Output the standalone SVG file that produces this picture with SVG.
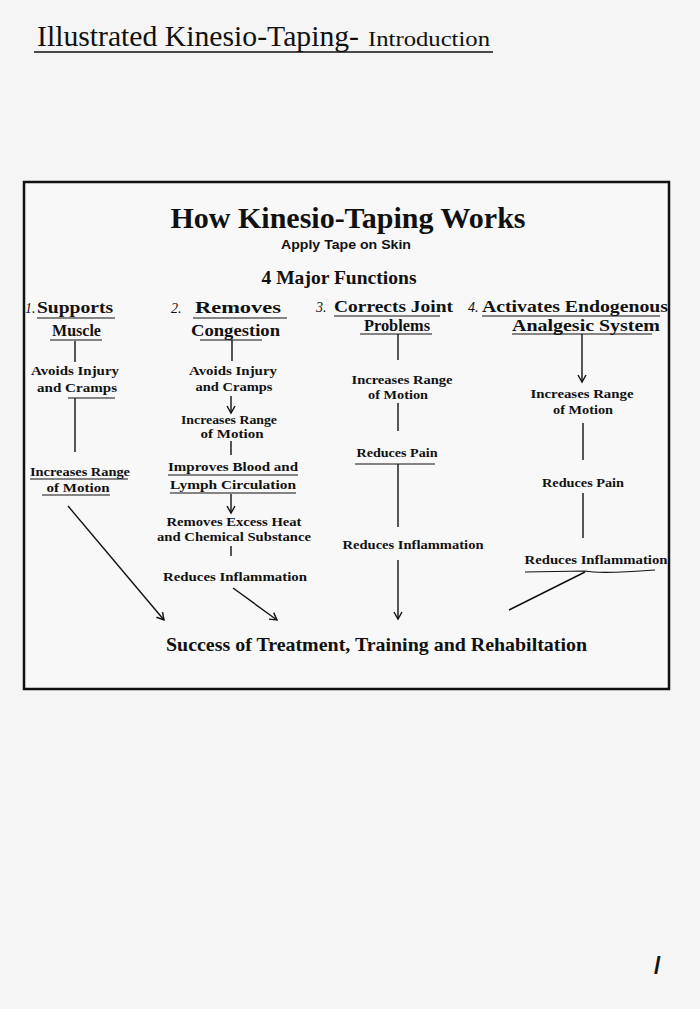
<svg xmlns="http://www.w3.org/2000/svg" width="700" height="1009" viewBox="0 0 700 1009">
<defs>
<marker id="arr" viewBox="-8 -5 10 10" markerWidth="10" markerHeight="10" refX="0" refY="0" orient="auto" markerUnits="userSpaceOnUse">
<path d="M-7,-4 L0,0 L-7,4" fill="none" stroke="#111" stroke-width="1.4"/>
</marker>
<style>
.hdr{font-family:"Liberation Serif",serif;fill:#111}
.ttl{font-family:"Liberation Serif",serif;font-weight:bold;fill:#111}
.sub{font-family:"Liberation Sans",sans-serif;font-weight:bold;fill:#111}
.hd{font-family:"Liberation Serif",serif;font-weight:bold;font-size:17px;fill:#111}
.num{font-family:"Liberation Serif",serif;font-style:italic;font-size:14px;fill:#111}
.it{font-family:"Liberation Serif",serif;font-weight:bold;font-size:13.5px;fill:#111}
.ln{stroke:#111;stroke-width:1.4;fill:none}
.ul{stroke:#111;stroke-width:1.2;fill:none}
</style>
</defs>
<rect x="0" y="0" width="700" height="1009" fill="#f5f5f5"/>

<g id="header">
<text class="hdr" x="37" y="46" font-size="30" textLength="322" lengthAdjust="spacingAndGlyphs">Illustrated Kinesio-Taping-</text>
<text class="hdr" x="368" y="46" font-size="21" textLength="122" lengthAdjust="spacingAndGlyphs">Introduction</text>
<line x1="34" y1="52" x2="493" y2="52" stroke="#111" stroke-width="1.5"/>
</g>

<rect id="frame" x="24" y="182" width="645" height="507" fill="#f8f8f8" stroke="#111" stroke-width="2.5"/>

<g id="title">
<text class="ttl" x="348" y="228" font-size="30" text-anchor="middle" textLength="355" lengthAdjust="spacingAndGlyphs">How Kinesio-Taping Works</text>
<text class="sub" x="346" y="249" font-size="13" text-anchor="middle" textLength="130" lengthAdjust="spacingAndGlyphs">Apply Tape on Skin</text>
<text class="ttl" x="339" y="284" font-size="19" text-anchor="middle" textLength="155" lengthAdjust="spacingAndGlyphs">4 Major Functions</text>
</g>

<g id="col1-head">
<text class="num" x="25" y="313">1.</text>
<text class="hd" x="37" y="313" textLength="76" lengthAdjust="spacingAndGlyphs">Supports</text>
<line class="ul" x1="37" y1="318" x2="115" y2="318"/>
<text class="hd" x="52" y="336" textLength="49" lengthAdjust="spacingAndGlyphs">Muscle</text>
<line class="ul" x1="50" y1="340" x2="102" y2="340"/>
</g>
<g id="col1-a">
<text class="it" x="75" y="375" text-anchor="middle" textLength="88" lengthAdjust="spacingAndGlyphs">Avoids Injury</text>
<text class="it" x="77" y="392" text-anchor="middle" textLength="80" lengthAdjust="spacingAndGlyphs">and Cramps</text>
</g>
<g id="col1-b">
<text class="it" x="80" y="476" text-anchor="middle" textLength="100" lengthAdjust="spacingAndGlyphs">Increases Range</text>
<line class="ul" x1="30" y1="479" x2="128" y2="479"/>
<text class="it" x="78" y="492" text-anchor="middle" textLength="63" lengthAdjust="spacingAndGlyphs">of Motion</text>
<line class="ul" x1="42" y1="495" x2="110" y2="495"/>
</g>

<g id="col2-head">
<text class="num" x="171" y="313">2.</text>
<text class="hd" x="195" y="313" textLength="86" lengthAdjust="spacingAndGlyphs">Removes</text>
<line class="ul" x1="193" y1="318" x2="287" y2="318"/>
<text class="hd" x="191" y="336" textLength="89" lengthAdjust="spacingAndGlyphs">Congestion</text>
<line class="ul" x1="200" y1="340" x2="262" y2="340"/>
</g>
<g id="col2-a">
<text class="it" x="233" y="375" text-anchor="middle" textLength="88" lengthAdjust="spacingAndGlyphs">Avoids Injury</text>
<text class="it" x="234" y="391" text-anchor="middle" textLength="77" lengthAdjust="spacingAndGlyphs">and Cramps</text>
</g>
<g id="col2-b">
<text class="it" x="229" y="424" text-anchor="middle" textLength="96" lengthAdjust="spacingAndGlyphs">Increases Range</text>
<text class="it" x="232" y="438" text-anchor="middle" textLength="63" lengthAdjust="spacingAndGlyphs">of Motion</text>
</g>
<g id="col2-c">
<text class="it" x="233" y="471" text-anchor="middle" textLength="130" lengthAdjust="spacingAndGlyphs">Improves Blood and</text>
<line class="ul" x1="168" y1="475" x2="298" y2="475"/>
<text class="it" x="233" y="489" text-anchor="middle" textLength="126" lengthAdjust="spacingAndGlyphs">Lymph Circulation</text>
<line class="ul" x1="170" y1="493" x2="296" y2="493"/>
</g>
<g id="col2-d">
<text class="it" x="234" y="526" text-anchor="middle" textLength="135" lengthAdjust="spacingAndGlyphs">Removes Excess Heat</text>
<text class="it" x="234" y="541" text-anchor="middle" textLength="154" lengthAdjust="spacingAndGlyphs">and Chemical Substance</text>
</g>
<g id="col2-e">
<text class="it" x="235" y="581" text-anchor="middle" textLength="144" lengthAdjust="spacingAndGlyphs">Reduces Inflammation</text>
</g>

<g id="col3-head">
<text class="num" x="316" y="312">3.</text>
<text class="hd" x="334" y="312" textLength="119" lengthAdjust="spacingAndGlyphs">Corrects Joint</text>
<line class="ul" x1="334" y1="316" x2="440" y2="316"/>
<text class="hd" x="364" y="331" textLength="66" lengthAdjust="spacingAndGlyphs">Problems</text>
<line class="ul" x1="360" y1="334" x2="432" y2="334"/>
</g>
<g id="col3-a">
<text class="it" x="402" y="384" text-anchor="middle" textLength="101" lengthAdjust="spacingAndGlyphs">Increases Range</text>
<text class="it" x="398" y="399" text-anchor="middle" textLength="60" lengthAdjust="spacingAndGlyphs">of Motion</text>
</g>
<g id="col3-b">
<text class="it" x="397" y="457" text-anchor="middle" textLength="81" lengthAdjust="spacingAndGlyphs">Reduces Pain</text>
<line class="ul" x1="355" y1="464" x2="435" y2="464"/>
</g>
<g id="col3-c">
<text class="it" x="413" y="549" text-anchor="middle" textLength="141" lengthAdjust="spacingAndGlyphs">Reduces Inflammation</text>
</g>

<g id="col4-head">
<text class="num" x="468" y="312">4.</text>
<text class="hd" x="482" y="312" textLength="186" lengthAdjust="spacingAndGlyphs">Activates Endogenous</text>
<line class="ul" x1="482" y1="316" x2="660" y2="316"/>
<text class="hd" x="512" y="331" textLength="148" lengthAdjust="spacingAndGlyphs">Analgesic System</text>
<line class="ul" x1="512" y1="334" x2="652" y2="334"/>
</g>
<g id="col4-a">
<text class="it" x="582" y="398" text-anchor="middle" textLength="103" lengthAdjust="spacingAndGlyphs">Increases Range</text>
<text class="it" x="583" y="414" text-anchor="middle" textLength="60" lengthAdjust="spacingAndGlyphs">of Motion</text>
</g>
<g id="col4-b">
<text class="it" x="583" y="487" text-anchor="middle" textLength="82" lengthAdjust="spacingAndGlyphs">Reduces Pain</text>
</g>
<g id="col4-c">
<text class="it" x="596" y="564" text-anchor="middle" textLength="143" lengthAdjust="spacingAndGlyphs">Reduces Inflammation</text>
<path class="ul" d="M525,572 L585,571 Q600,574 655,570"/>
</g>

<g id="result">
<text class="ttl" x="166" y="651" font-size="19" textLength="421" lengthAdjust="spacingAndGlyphs">Success of Treatment, Training and Rehabiltation</text>
</g>

<g id="connectors">
<line class="ln" x1="75" y1="341" x2="75" y2="362"/>
<line class="ul" x1="68" y1="398" x2="115" y2="398"/>
<line class="ln" x1="75" y1="398" x2="75" y2="452"/>
<line class="ln" x1="68" y1="506" x2="164" y2="620" marker-end="url(#arr)"/>

<line class="ln" x1="232" y1="340" x2="232" y2="361"/>
<line class="ln" x1="231" y1="396" x2="231" y2="413" marker-end="url(#arr)"/>
<line class="ln" x1="231" y1="441" x2="231" y2="455"/>
<line class="ln" x1="231" y1="494" x2="231" y2="513" marker-end="url(#arr)"/>
<line class="ln" x1="231" y1="546" x2="231" y2="556"/>
<line class="ln" x1="233" y1="588" x2="277" y2="620" marker-end="url(#arr)"/>

<line class="ln" x1="398" y1="334" x2="398" y2="360"/>
<line class="ln" x1="398" y1="403" x2="398" y2="431"/>
<line class="ln" x1="398" y1="464" x2="398" y2="527"/>
<line class="ln" x1="398" y1="560" x2="398" y2="619" marker-end="url(#arr)"/>

<line class="ln" x1="582" y1="334" x2="582" y2="382" marker-end="url(#arr)"/>
<line class="ln" x1="583" y1="423" x2="583" y2="460"/>
<line class="ln" x1="583" y1="493" x2="583" y2="538"/>
<line class="ln" x1="585" y1="572" x2="509" y2="610"/>
</g>

<text id="page" x="654" y="974" font-family="Liberation Sans, sans-serif" font-weight="bold" font-size="24" fill="#111">/</text>
</svg>
